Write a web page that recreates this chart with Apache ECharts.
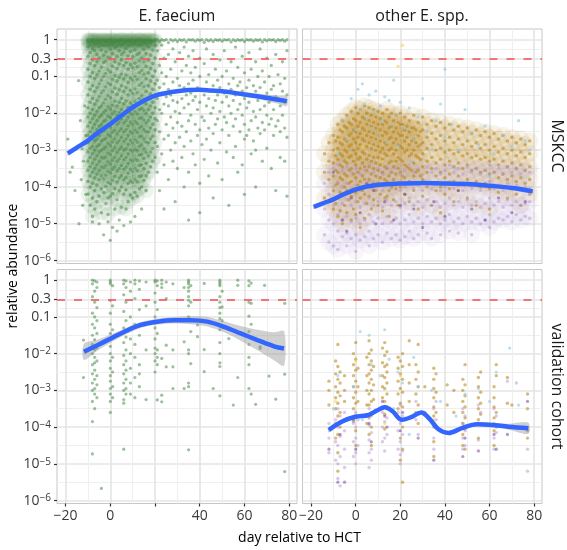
<!DOCTYPE html>
<html><head><meta charset="utf-8">
<script src="https://cdn.jsdelivr.net/npm/echarts@6/dist/echarts.min.js"></script>
<style>html,body{margin:0;padding:0;background:#fff}#c{width:567px;height:550px}</style>
</head><body><div id="c"></div>
<script>
// ---------------- DATA (day relative to HCT, log10 relative abundance) ----------------
const threshold = 0.3;
const yBreaks = [1, 0.3, 0.1, 1e-2, 1e-3, 1e-4, 1e-5, 1e-6];
const yBreakLabels = ['1', '0.3', '0.1', '10^-2', '10^-3', '10^-4', '10^-5', '10^-6'];
const xBreaks = [-20, 0, 20, 40, 60, 80];
const xMinorBreaks = [-10, 10, 30, 50, 70];
const xLabelsLeft = [-20, 0, 40, 60, 80];
const xLabelsRight = [-20, 0, 20, 40, 60, 80];

// MSKCC, E. faecium  [day, [log10 abundance ...]]  (dense early block)
const mskFaeciumDenseCols = [
[-10,[0,-0.03,-0.09,-0.2,-0.45,-0.8,-1.15,-1.5,-1.85,-2.1,-2.35,-2.6,-2.8,-3.05,-3.3,-3.55,-3.85,-4.2]],
[-9,[-0.01,-0.05,-0.14,-0.35,-0.65,-1.0,-1.35,-1.7,-2.0,-2.25,-2.5,-2.7,-2.95,-3.2,-3.45,-3.7,-4.0,-4.5]],
[-8,[0,-0.02,-0.07,-0.25,-0.55,-0.9,-1.25,-1.6,-1.9,-2.15,-2.4,-2.65,-2.9,-3.1,-3.35,-3.6,-3.9,-4.3,-4.8]],
[-7,[-0.01,-0.04,-0.12,-0.3,-0.7,-1.05,-1.4,-1.75,-2.05,-2.3,-2.55,-2.75,-3.0,-3.25,-3.5,-3.75,-4.1,-4.6]],
[-6,[0,-0.03,-0.1,-0.4,-0.6,-0.95,-1.3,-1.65,-1.95,-2.2,-2.45,-2.7,-2.9,-3.15,-3.4,-3.65,-3.95,-4.4]],
[-5,[-0.02,-0.06,-0.18,-0.5,-0.85,-1.2,-1.55,-1.85,-2.1,-2.35,-2.6,-2.85,-3.05,-3.3,-3.55,-3.8,-4.25]],
[-4,[0,-0.04,-0.11,-0.28,-0.75,-1.1,-1.45,-1.8,-2.05,-2.3,-2.5,-2.75,-3.0,-3.2,-3.45,-3.7,-4.05,-4.7]],
[-3,[-0.01,-0.03,-0.15,-0.42,-0.62,-1.0,-1.38,-1.72,-1.98,-2.22,-2.48,-2.72,-2.96,-3.22,-3.48,-3.78,-4.15]],
[-2,[0,-0.05,-0.08,-0.33,-0.58,-0.92,-1.28,-1.62,-1.92,-2.18,-2.42,-2.68,-2.92,-3.18,-3.42,-3.68,-3.98,-4.45]],
[-1,[-0.02,-0.04,-0.16,-0.48,-0.82,-1.18,-1.52,-1.82,-2.08,-2.32,-2.58,-2.82,-3.08,-3.32,-3.58,-3.88,-4.3,-4.75]],
[0,[0,-0.02,-0.1,-0.26,-0.52,-0.88,-1.22,-1.58,-1.88,-2.12,-2.38,-2.62,-2.88,-3.12,-3.38,-3.62,-3.92,-4.25]],
[1,[-0.01,-0.06,-0.13,-0.38,-0.72,-1.08,-1.42,-1.78,-2.02,-2.28,-2.52,-2.78,-3.02,-3.28,-3.52,-3.82,-4.18]],
[2,[0,-0.03,-0.09,-0.22,-0.6,-0.98,-1.32,-1.68,-1.96,-2.2,-2.46,-2.7,-2.94,-3.2,-3.46,-3.72,-4.05,-4.6]],
[3,[-0.02,-0.05,-0.17,-0.45,-0.78,-1.12,-1.48,-1.8,-2.06,-2.3,-2.56,-2.8,-3.06,-3.3,-3.56,-3.86,-4.35]],
[4,[0,-0.04,-0.11,-0.3,-0.66,-1.02,-1.36,-1.7,-1.98,-2.24,-2.48,-2.74,-2.98,-3.24,-3.5,-3.76,-4.1]],
[5,[-0.01,-0.02,-0.14,-0.4,-0.55,-0.94,-1.26,-1.6,-1.9,-2.16,-2.42,-2.66,-2.92,-3.16,-3.42,-3.7,-4.0,-4.55]],
[6,[0,-0.06,-0.12,-0.34,-0.7,-1.06,-1.4,-1.74,-2.0,-2.26,-2.5,-2.76,-3.0,-3.26,-3.52,-3.8,-4.2]],
[7,[-0.02,-0.03,-0.08,-0.24,-0.62,-0.96,-1.3,-1.66,-1.94,-2.2,-2.44,-2.7,-2.96,-3.2,-3.46,-3.74,-4.08,-4.6]],
[8,[0,-0.05,-0.16,-0.44,-0.8,-1.16,-1.5,-1.84,-2.1,-2.34,-2.6,-2.84,-3.1,-3.36,-3.62,-3.9,-4.4]],
[9,[-0.01,-0.04,-0.1,-0.32,-0.68,-1.04,-1.38,-1.72,-2.0,-2.24,-2.5,-2.74,-3.0,-3.26,-3.52,-3.84,-4.22]],
[10,[0,-0.03,-0.13,-0.46,-0.76,-1.1,-1.46,-1.78,-2.04,-2.3,-2.54,-2.8,-3.04,-3.3,-3.58,-3.88,-4.3]],
[11,[-0.02,-0.06,-0.09,-0.28,-0.64,-1.0,-1.34,-1.68,-1.96,-2.22,-2.46,-2.72,-2.98,-3.24,-3.5,-3.8,-4.15]],
[12,[0,-0.04,-0.15,-0.4,-0.74,-1.08,-1.44,-1.76,-2.02,-2.28,-2.52,-2.78,-3.02,-3.28,-3.56,-3.86,-4.25]],
[13,[-0.01,-0.02,-0.11,-0.36,-0.58,-0.9,-1.24,-1.6,-1.9,-2.14,-2.4,-2.64,-2.9,-3.14,-3.42,-3.72,-4.05]],
[14,[0,-0.05,-0.14,-0.5,-0.84,-1.18,-1.52,-1.86,-2.12,-2.36,-2.62,-2.86,-3.12,-3.4,-3.7,-4.0]],
[15,[-0.02,-0.03,-0.08,-0.26,-0.6,-0.94,-1.28,-1.62,-1.92,-2.18,-2.44,-2.7,-2.96,-3.22,-3.5,-3.82]],
[16,[0,-0.04,-0.12,-0.38,-0.72,-1.06,-1.4,-1.74,-2.0,-2.26,-2.5,-2.78,-3.06,-3.36,-3.7,-4.1]],
[17,[-0.01,-0.06,-0.2,-0.55,-0.9,-1.25,-1.6,-1.9,-2.2,-2.5,-2.8,-3.15,-3.6]],
[18,[0,-0.03,-0.1,-0.42,-0.78,-1.12,-1.48,-1.8,-2.1,-2.4,-2.7,-3.05,-3.45]],
[19,[-0.02,-0.05,-0.28,-0.65,-1.0,-1.35,-1.7,-2.0,-2.3,-2.62,-2.95,-3.3]],
[20,[0,-0.04,-0.15,-0.5,-0.85,-1.2,-1.55,-1.85,-2.15,-2.45,-2.8,-3.2]]
];
// MSKCC, E. faecium, later days (sparser)
const mskFaeciumSparseCols = [
[21,[0,-0.3,-1.1,-1.6,-2.2,-2.9,-3.6]],[22,[-0.05,-0.7,-1.3,-1.9,-2.5,-4.1]],
[23,[0,-0.15,-0.9,-1.45,-2.0,-3.1]],[24,[-0.02,-0.5,-1.2,-1.75,-2.7,-3.4,-4.6]],
[25,[0,-1.0,-1.55,-2.3]],[26,[-0.08,-0.4,-1.35,-1.8,-2.6,-3.8]],
[27,[0,-0.8,-1.5,-2.1,-3.0]],[28,[-0.03,-0.25,-1.15,-1.65,-2.4,-3.3]],
[29,[0,-0.6,-1.4,-1.95,-2.8,-4.4]],[30,[-0.05,-1.05,-1.7,-2.25,-3.5]],
[31,[0,-0.35,-1.25,-2.0,-2.65]],[32,[-0.02,-0.85,-1.6,-2.35,-3.2]],
[33,[0,-0.2,-1.3,-1.85,-2.9,-4.0]],[34,[-0.06,-0.7,-1.5,-2.5]],
[35,[0,-0.45,-1.2,-1.75,-2.2,-3.6,-4.9]],[36,[-0.01,-0.9,-1.45,-2.05,-2.75]],
[37,[0,-0.3,-1.1,-1.65,-3.1]],[38,[-0.04,-0.75,-1.55,-2.3,-3.4]],
[39,[0,-1.3,-1.9,-2.6]],[40,[-0.02,-0.5,-1.0,-1.7,-2.45,-3.9,-4.7]],
[41,[0,-1.35,-2.1,-2.85]],[42,[-0.07,-0.65,-1.5,-2.2,-3.25]],
[43,[0,-0.25,-1.15,-1.8,-2.7]],[44,[-0.03,-0.95,-1.6,-2.4,-3.7]],
[45,[0,-1.4,-2.0,-3.0]],[46,[-0.05,-0.4,-1.25,-1.85,-2.55,-4.3]],
[47,[0,-0.8,-1.65,-2.3]],[48,[-0.02,-1.1,-1.5,-2.15,-3.35]],
[49,[0,-0.55,-1.3,-1.95,-2.8]],[50,[-0.04,-1.0,-1.7,-2.45,-3.8]],
[51,[0,-0.3,-1.45,-2.1]],[52,[-0.01,-0.85,-1.55,-2.25,-3.05]],
[53,[0,-1.2,-1.8,-2.6,-4.5]],[54,[-0.06,-0.6,-1.35,-2.0]],
[55,[0,-1.05,-1.65,-2.35,-3.2]],[56,[-0.03,-0.2,-1.5,-2.15,-2.9]],
[57,[0,-0.75,-1.25,-1.9,-3.6]],[58,[-0.02,-1.15,-1.75,-2.5]],
[59,[0,-0.45,-1.4,-2.05,-3.4]],[60,[-0.05,-0.9,-1.6,-2.3,-2.7,-4.2]],
[61,[0,-1.3,-1.85,-2.6]],[62,[-0.01,-0.35,-1.1,-1.7,-2.45]],
[63,[0,-0.8,-1.5,-2.2,-3.1]],[64,[-0.04,-1.25,-1.95,-2.75]],
[65,[0,-0.6,-1.4,-2.1,-3.0,-4.0]],[66,[-0.02,-1.0,-1.65,-2.4]],
[67,[0,-0.25,-1.3,-1.9,-2.55]],[68,[-0.06,-0.85,-1.55,-2.25,-3.3]],
[69,[0,-1.15,-1.8,-2.45]],[70,[-0.03,-0.5,-1.45,-2.05,-2.95]],
[71,[0,-1.0,-1.7,-2.3]],[72,[-0.01,-0.7,-1.35,-2.15,-3.5]],
[73,[0,-1.25,-1.9,-2.6]],[74,[-0.05,-0.4,-1.55,-2.35,-4.1]],
[75,[0,-0.95,-1.6,-2.2]],[76,[-0.02,-1.2,-1.8,-2.5,-3.2]],
[77,[0,-0.6,-1.4,-2.05]],[78,[-0.04,-1.05,-1.7,-2.4,-3.3]],
[79,[0,-0.3,-1.5,-2.65,-4.25]]
];
const mskFaeciumOutliers = [[-19,-2.7],[-17,-3.46],[-15.8,-4.1],[-14.2,-1.11],[-13.4,-2.2],[-12.7,-2.96],[-12.4,-4.5],[-12,-3.3],[-11.5,-1.8],[-11,-4.2],[-11,-2.6],[-18,-3.6],[-14,-5.0],[-13,-3.8],
  [-5,-5.0],[-3,-5.3],[0,-5.45],[3,-5.2],[6,-5.05],[9,-4.95],[4,-4.9],[11,-4.8],[14,-4.6],[-8,-4.95],[1,-5.1],[-1,-4.95]];

// MSKCC, other Enterococcus spp. (colour groups)
const mskOtherGoldCols = [
[-14,[-3.1,-3.6,-4.3]],[-12,[-2.8,-3.3,-3.8,-4.4]],[-10,[-2.6,-3.0,-3.35,-3.7,-4.1,-4.6]],
[-9,[-2.75,-3.15,-3.55,-3.95,-4.45]],[-8,[-2.3,-2.65,-2.95,-3.25,-3.6,-3.9,-4.3,-4.8]],
[-7,[-2.45,-2.8,-3.1,-3.4,-3.75,-4.15,-4.65]],[-6,[-2.2,-2.5,-2.85,-3.15,-3.45,-3.8,-4.2,-5.0]],
[-5,[-2.35,-2.7,-3.0,-3.3,-3.65,-4.0,-4.5]],[-4,[-2.05,-2.4,-2.75,-3.05,-3.35,-3.7,-4.1,-4.7]],
[-3,[-2.25,-2.6,-2.9,-3.2,-3.55,-3.9,-4.35]],[-2,[-1.95,-2.3,-2.55,-2.85,-3.15,-3.5,-3.85,-4.25,-4.9]],
[-1,[-2.15,-2.45,-2.7,-3.0,-3.3,-3.65,-4.05,-4.6]],[0,[-1.85,-2.2,-2.5,-2.8,-3.1,-3.4,-3.75,-4.15,-4.75]],
[1,[-2.0,-2.35,-2.65,-2.95,-3.25,-3.6,-3.95,-4.4]],[2,[-1.9,-2.25,-2.55,-2.85,-3.2,-3.5,-3.85,-4.3,-5.1]],
[3,[-2.1,-2.4,-2.7,-3.05,-3.35,-3.7,-4.1]],[4,[-1.8,-2.15,-2.45,-2.75,-3.1,-3.45,-3.8,-4.2,-4.85]],
[5,[-2.0,-2.3,-2.6,-2.9,-3.25,-3.55,-3.95,-4.45]],[6,[-1.85,-2.2,-2.5,-2.8,-3.15,-3.45,-3.8,-4.25]],
[7,[-2.05,-2.35,-2.65,-2.95,-3.3,-3.65,-4.0,-4.6]],[8,[-1.9,-2.25,-2.55,-2.85,-3.2,-3.5,-3.9,-4.35]],
[9,[-2.1,-2.4,-2.7,-3.0,-3.35,-3.7,-4.1]],[10,[-1.95,-2.3,-2.6,-2.9,-3.2,-3.55,-3.9,-4.5]],
[11,[-2.15,-2.45,-2.75,-3.05,-3.4,-3.75,-4.2]],[12,[-2.0,-2.3,-2.6,-2.95,-3.25,-3.6,-3.95,-4.65]],
[13,[-2.2,-2.5,-2.8,-3.1,-3.45,-3.8,-4.3]],[14,[-1.9,-2.25,-2.55,-2.85,-3.15,-3.5,-3.85,-4.25]],
[15,[-2.1,-2.4,-2.7,-3.0,-3.35,-3.7,-4.1,-4.8]],[16,[-2.0,-2.35,-2.65,-2.95,-3.3,-3.6,-4.0]],
[17,[-2.2,-2.5,-2.8,-3.1,-3.45,-3.8,-4.35]],[18,[-2.05,-2.4,-2.7,-3.0,-3.3,-3.65,-4.05]],
[19,[-2.25,-2.55,-2.85,-3.2,-3.5,-3.9,-4.5]],[20,[-2.0,-2.3,-2.6,-2.9,-3.25,-3.6,-4.0]],
[21,[-2.3,-2.6,-2.95,-3.3,-3.7]],[22,[-2.1,-2.45,-2.75,-3.05,-3.4,-3.75,-4.2]],
[23,[-2.35,-2.65,-3.0,-3.45,-3.9]],[24,[-2.2,-2.5,-2.85,-3.15,-3.5,-3.85,-4.4]],
[25,[-2.4,-2.75,-3.1,-3.55]],[26,[-2.05,-2.4,-2.7,-3.0,-3.35,-3.7,-4.1]],
[27,[-2.45,-2.8,-3.15,-3.6]],[28,[-2.25,-2.6,-2.9,-3.2,-3.55,-3.9,-4.6]],
[29,[-2.5,-2.85,-3.25,-3.7]],
[30,[-2.1,-2.45,-2.8,-3.1,-3.45,-3.8,-4.25]],[32,[-2.3,-2.65,-2.95,-3.3,-3.6,-4.0]],
[34,[-2.2,-2.55,-2.85,-3.2,-3.5,-3.9,-4.5]],[36,[-2.35,-2.7,-3.0,-3.35,-3.7,-4.1]],
[38,[-2.25,-2.6,-2.95,-3.25,-3.6,-4.0,-4.7]],[40,[-2.4,-2.75,-3.05,-3.4,-3.75,-4.2]],
[42,[-2.3,-2.65,-3.0,-3.3,-3.65,-4.05]],[44,[-2.45,-2.8,-3.1,-3.45,-3.85,-4.4]],
[46,[-2.35,-2.7,-3.05,-3.35,-3.7,-4.1]],[48,[-2.5,-2.85,-3.15,-3.5,-3.9]],
[50,[-2.4,-2.75,-3.1,-3.4,-3.8,-4.3]],[52,[-2.55,-2.9,-3.2,-3.55,-3.95]],
[54,[-2.45,-2.8,-3.15,-3.5,-3.85,-4.5]],[56,[-2.6,-2.95,-3.25,-3.6,-4.0]],
[58,[-2.5,-2.85,-3.2,-3.55,-3.9]],[60,[-2.65,-3.0,-3.3,-3.65,-4.05,-4.6]],
[62,[-2.55,-2.9,-3.25,-3.6,-3.95]],[64,[-2.7,-3.05,-3.4,-3.75,-4.15]],
[66,[-2.6,-2.95,-3.3,-3.65,-4.0]],[68,[-2.75,-3.1,-3.45,-3.8,-4.3]],
[70,[-2.65,-3.0,-3.35,-3.7,-4.05]],[72,[-2.8,-3.15,-3.5,-3.85,-4.2]],
[74,[-2.7,-3.05,-3.4,-3.75,-4.5]],[76,[-2.85,-3.2,-3.55,-3.9]],[78,[-2.75,-3.1,-3.45,-3.8,-4.2]]
];
const mskOtherLavenderCols = [
[-14,[-3.9,-4.6,-5.3]],[-12,[-3.6,-4.2,-4.9,-5.5]],[-10,[-3.5,-4.0,-4.5,-5.0,-5.6]],
[-8,[-3.4,-3.85,-4.3,-4.75,-5.2,-5.7]],[-6,[-3.55,-4.0,-4.45,-4.9,-5.35]],[-4,[-3.45,-3.9,-4.35,-4.8,-5.25,-5.6]],
[-2,[-3.6,-4.05,-4.5,-4.95,-5.4]],[0,[-3.5,-3.95,-4.4,-4.85,-5.3,-5.75]],[2,[-3.65,-4.1,-4.55,-5.0,-5.45]],
[4,[-3.55,-4.0,-4.45,-4.9,-5.35]],[6,[-3.4,-3.85,-4.3,-4.75,-5.2,-5.6]],[8,[-3.6,-4.05,-4.5,-4.95,-5.4]],
[10,[-3.5,-3.95,-4.4,-4.85,-5.3]],[12,[-3.65,-4.1,-4.55,-5.0,-5.5]],[14,[-3.45,-3.9,-4.35,-4.8,-5.25]],
[16,[-3.6,-4.05,-4.5,-4.95,-5.4]],[18,[-3.5,-3.95,-4.4,-4.85,-5.3]],[20,[-3.65,-4.1,-4.55,-5.0,-5.45]],
[22,[-3.55,-4.0,-4.45,-4.9,-5.35]],[24,[-3.4,-3.85,-4.3,-4.75,-5.2]],[26,[-3.6,-4.05,-4.5,-4.95,-5.4]],
[28,[-3.5,-3.95,-4.4,-4.85,-5.3]],[30,[-3.65,-4.1,-4.55,-5.0]],[32,[-3.45,-3.9,-4.35,-4.8,-5.25]],
[34,[-3.6,-4.05,-4.5,-4.95,-5.4]],[36,[-3.5,-3.95,-4.4,-4.85]],[38,[-3.65,-4.1,-4.55,-5.0,-5.3]],
[40,[-3.55,-4.0,-4.45,-4.9]],[42,[-3.4,-3.85,-4.3,-4.75,-5.2]],[44,[-3.6,-4.05,-4.5,-4.95]],
[46,[-3.5,-3.95,-4.4,-4.85,-5.25]],[48,[-3.65,-4.1,-4.55,-5.0]],[50,[-3.45,-3.9,-4.35,-4.8]],
[52,[-3.6,-4.05,-4.5,-4.95,-5.3]],[54,[-3.5,-3.95,-4.4,-4.85]],[56,[-3.65,-4.1,-4.55,-5.0]],
[58,[-3.55,-4.0,-4.45,-4.9]],[60,[-3.4,-3.85,-4.3,-4.75,-5.1]],[62,[-3.6,-4.05,-4.5,-4.95]],
[64,[-3.5,-3.95,-4.4,-4.85]],[66,[-3.65,-4.1,-4.55,-4.9]],[68,[-3.45,-3.9,-4.35,-4.8]],
[70,[-3.6,-4.05,-4.5,-4.95]],[72,[-3.5,-3.95,-4.4,-4.75]],[74,[-3.65,-4.1,-4.5,-4.9]],
[76,[-3.55,-4.0,-4.45,-4.8]],[78,[-3.6,-4.05,-4.4,-4.85]]
];
const mskOtherBlue = [[-2,-1.6],[1,-1.35],[2,-1.9],[3,-1.2],[4,-1.75],[5,-2.1],[6,-1.5],[7,-2.4],[8,-1.95],[9,-1.4],[10,-2.6],[11,-1.8],[12,-2.2],[13,-1.55],[14,-2.8],[15,-1.65],[16,-2.3],[17,-1.1],[18,-2.05],[19,-2.9],[20,-1.7],[22,-2.4],[24,-1.85],[26,-2.7],[28,-2.1],[30,-1.6],[32,-2.5],[34,-2.95],[36,-2.2],[38,-1.75],[40,-2.65],[40,-0.8],[43,-2.3],[46,-3.0],[49,-1.9],[52,-2.55],[55,-2.85],[58,-2.35],[62,-3.1],[66,-2.6],[70,-2.9],[73,-2.2],[76,-2.75],[78,-3.0],[-8,-3.1],[-4,-2.7],[0,-2.45],[-6,-2.2],[25,-3.3],[45,-3.5],[60,-3.7]];
const mskOtherPurple = [[-10,-3.6],[-6,-4.9],[-2,-4.3],[2,-4.7],[5,-3.9],[9,-5.0],[13,-4.4],[17,-4.9],[22,-4.2],[26,-4.6],[30,-5.1],[35,-4.4],[40,-4.8],[46,-4.1],[52,-4.6],[58,-4.9],[64,-4.3],[70,-4.7],[76,-4.4],[-4,-5.2],[8,-4.1],[20,-4.5]];
const mskOtherYellow = [[3,-2.9],[12,-3.3],[19,-0.72],[21,-0.15],[30,-3.6],[44,-2.9],[60,-3.2],[-3,-3.8]];

// validation cohort, E. faecium
const valFaeciumCols = [
[-12,[-1.63,-2.65]],[-8,[0,-0.1,-0.45,-0.9,-1.2,-1.5,-1.75,-2.0,-2.3,-2.55,-2.8,-3.0,-3.3,-3.85,-4.73]],
[-7,[-0.02,-0.3,-0.6,-1.0,-1.3,-1.62,-1.9,-2.1,-2.25,-2.45,-2.7,-2.95,-3.1,-3.5]],
[-6,[-0.05,-0.2,-0.75,-1.1,-1.45,-1.85,-2.2,-2.6,-2.85,-3.2]],[-4,[-5.67]],
[0,[0,-0.05,-0.1,-0.55,-0.9,-1.2,-1.45,-1.8,-2.0,-2.2,-2.4,-2.6,-2.75,-2.95,-3.1,-3.3,-3.6]],
[1,[-0.15,-0.7,-1.35,-2.1,-2.5,-2.9,-3.2]],
[6,[0,-0.1,-0.4,-0.85,-1.3,-1.7,-2.05,-2.3,-2.55,-2.8,-3.0,-3.25,-3.35,-4.6]],
[7,[-0.02,-0.2,-0.6,-1.1,-1.55,-1.9,-2.2,-2.45,-2.7,-2.95,-3.1]],
[9,[-0.05,-0.3,-1.0,-1.6,-2.0,-2.4,-2.8,-3.1]],[11,[0,-0.1,-0.5,-1.2,-1.75,-2.1,-2.65,-3.2]],
[13,[-0.02,-0.25,-0.8,-1.5,-2.3,-2.55,-2.9]],[16,[-0.05,-0.7,-1.9,-3.25]],
[20,[0,-0.05,-0.35,-0.6,-1.0,-1.3,-1.6,-1.85,-2.0,-2.2,-2.5]],
[21,[-0.02,-0.15,-0.8,-1.45,-1.9,-2.1,-2.3,-3.26]],[23,[0,-0.1,-0.2,-2.13,-3.31,-3.13]],
[25,[-0.05,-0.5,-1.77,-2.36]],[28,[-0.1,-1.9,-2.36,-2.95]],[33,[-0.2,-1.68,-2.95]],
[35,[0,-0.05,-0.1,-0.2,-0.3,-0.45,-0.55,-0.7,-1.0,-1.9,-2.0,-2.8,-2.9,-4.62]],
[36,[-0.15,-0.6,-1.4,-2.27]],[39,[-1.22,-1.54]],[42,[-1.89,-2.49,-0.09]],[46,[-2.95]],
[49,[0,-0.05,-0.1,-0.15,-0.45,-0.6,-0.75,-0.9,-1.05,-1.35,-1.7,-2.0,-2.25,-2.35,-3.15]],
[50,[-0.3,-0.73,-1.1]],[53,[-1.59]],[55,[-3.4]],[57,[0,-2.65,-0.14]],
[62,[-0.02,-0.15,-0.6,-0.98,-1.4,-1.75,-2.1,-2.3,-2.95]],[63,[-0.08,-0.63,-1.2,-3.1]],
[65,[-3.38]],[67,[-1.86,-1.81]],[69,[-0.14]],[71,[-2.61]],[74,[-3.24]],[78,[-0.63,-2.56,-5.21]]
];

// validation cohort, other Enterococcus spp.
const valOtherGoldCols = [
[-12,[-2.75,-3.0,-3.4]],[-9,[-2.2,-2.55,-2.9,-3.2,-3.5,-3.9,-4.3]],
[-8,[-1.75,-2.35,-2.7,-3.05,-3.35,-3.7,-4.2,-4.7,-5.2]],[-7,[-2.5,-2.8,-3.15,-3.6,-4.0]],
[-5,[-2.6,-3.0,-3.3,-3.8]],[-1,[-2.0,-2.3,-2.6,-2.9,-3.2,-3.5,-3.85]],
[0,[-1.7,-2.15,-2.45,-2.75,-3.05,-3.35,-3.7,-4.1,-4.5]],[1,[-2.4,-2.9,-3.3]],
[5,[-2.1,-2.6,-3.0,-3.4,-3.9]],[6,[-1.65,-2.0,-2.3,-2.55,-2.8,-3.1,-3.4,-3.75,-4.2]],
[7,[-1.9,-2.2,-2.45,-2.7,-3.0,-3.3,-3.6,-4.0,-4.5]],[8,[-2.35,-2.85,-3.25]],
[12,[-1.85,-2.25,-2.6,-2.9,-3.2,-3.5]],[13,[-1.7,-2.05,-2.35,-2.65,-2.95,-3.3,-3.65,-4.05]],
[14,[-1.95,-2.3,-2.5,-2.8,-3.1,-3.45]],[19,[-2.1,-2.4,-2.75,-3.1,-3.5]],
[20,[-2.2,-2.55,-2.95,-3.35,-3.8,-4.3,-4.9]],[21,[-2.0,-2.35,-2.7,-3.05,-3.45,-4.0,-4.6,-5.5]],
[24,[-1.65,-2.3,-2.8,-3.3]],[27,[-2.3,-2.7,-3.1,-3.6]],[28,[-1.75,-2.5,-2.9,-3.4,-3.9]],
[31,[-2.9,-3.6]],[35,[-2.4,-2.7,-2.95,-3.2,-3.45,-3.7,-4.0,-4.4,-4.8]],[36,[-2.55,-3.05,-3.6]],
[41,[-2.85,-3.4]],[44,[-3.0,-3.6]],[48,[-2.7,-3.0,-3.3,-3.6,-3.9,-4.2,-4.5]],
[49,[-2.3,-2.85,-3.15,-3.45,-3.75,-4.05,-4.6]],[55,[-2.65,-2.9,-3.2,-3.5,-3.8,-4.3]],
[56,[-2.5,-3.05,-3.35,-3.65]],[62,[-2.9,-3.2,-3.45,-3.75,-4.1,-4.5]],[63,[-2.3,-2.6,-3.6,-4.0]],
[68,[-2.65,-3.35]],[70,[-3.4]],[77,[-3.1,-3.5,-4.3,-4.1]]
];
const valOtherLavenderCols = [
[-12,[-3.9,-4.3,-4.7]],[-9,[-3.8,-4.4,-4.9]],[-8,[-3.5,-4.0,-4.5,-5.0,-5.4]],[-7,[-3.7,-4.25,-4.8,-5.6]],
[-5,[-3.6,-4.1,-4.6,-5.1]],[-1,[-3.9,-4.4,-4.8]],[0,[-3.6,-4.0,-4.3,-4.7,-5.0]],[1,[-3.8,-4.5]],
[6,[-3.5,-3.95,-4.35,-4.7,-5.1]],[7,[-3.7,-4.15,-4.6,-4.9]],[12,[-3.6,-4.0,-4.4]],
[13,[-3.45,-3.85,-4.3,-4.65]],[14,[-3.75,-4.2]],[19,[-3.6,-4.1,-4.6]],[20,[-3.4,-3.9,-4.4,-4.75,-5.0]],
[21,[-3.7,-4.2,-4.65]],[27,[-3.3,-3.8]],[28,[-4.2]],[35,[-3.5,-3.9,-4.3,-4.6]],[36,[-3.3,-3.8]],
[48,[-3.5,-3.9,-4.3,-4.6]],[49,[-3.7,-4.1,-4.5]],[55,[-3.4,-3.9,-4.35]],[56,[-3.6]],
[62,[-3.5,-3.9,-4.3,-4.6]],[63,[-3.7,-4.15]],[68,[-2.75,-4.0]],[72,[-2.8]],[77,[-4.6,-5.2]]
];
const valOtherBlue = [[-8,-2.6],[-1,-2.9],[2,-1.4],[6,-1.5],[7,-2.3],[11,-2.6],[13,-1.35],[15,-2.15],[19,-2.5],[21,-2.8],[26,-2.1],[28,-2.9],[34,-3.0],[38,-3.3],[49,-3.1],[55,-2.95],[60,-3.3],[63,-2.5],[69,-1.85],[73,-3.4],[-10,-3.5],[3,-3.8],[17,-3.5],[24,-4.2],[45,-3.7]];
const valOtherPurple = [[-12,-4.6],[-8,-5.5],[-7,-4.2],[-5,-5.5],[-1,-3.8],[0,-4.6],[6,-3.9],[7,-4.4],[12,-3.3],[13,-3.7],[14,-4.0],[20,-4.1],[21,-3.6],[28,-4.3],[35,-4.9],[48,-4.8],[49,-4.3],[55,-4.65],[62,-4.2],[63,-4.6],[68,-4.2],[77,-3.3]];
const valOtherYellow = [[-9,-3.3],[0,-2.2],[7,-3.6],[13,-3.9],[20,-2.6],[35,-3.8]];

// loess smooth fits: [day, fitted log10, half-width of 95% CI]
const mskFaeciumSmooth = [[-19,-3.09,0.06],[-15,-2.93,0.05],[-10,-2.74,0.04],[-5,-2.5,0.03],[0,-2.29,0.03],[5,-2.06,0.02],[10,-1.84,0.02],[15,-1.66,0.02],[20,-1.52,0.02],[25,-1.45,0.02],[30,-1.4,0.03],[35,-1.37,0.03],[40,-1.36,0.03],[45,-1.38,0.03],[50,-1.4,0.04],[55,-1.44,0.05],[60,-1.49,0.06],[65,-1.53,0.07],[70,-1.58,0.09],[75,-1.63,0.11],[79,-1.67,0.13]];
const mskOtherSmooth = [[-18.8,-4.54,0.05],[-14,-4.43,0.04],[-9.8,-4.33,0.03],[-5,-4.19,0.03],[0.6,-4.06,0.02],[5,-3.99,0.02],[10.4,-3.94,0.02],[20,-3.91,0.02],[30.6,-3.89,0.02],[40.3,-3.91,0.02],[50,-3.92,0.02],[60.5,-3.97,0.03],[70.3,-4.03,0.04],[79.3,-4.12,0.06]];
const valFaeciumSmooth = [[-11.8,-1.95,0.22],[-5.8,-1.77,0.15],[0.2,-1.59,0.11],[6.1,-1.41,0.09],[13.6,-1.22,0.08],[21,-1.13,0.08],[28.5,-1.09,0.09],[35.9,-1.09,0.11],[43.4,-1.13,0.13],[50.9,-1.27,0.15],[58.3,-1.45,0.2],[65.8,-1.63,0.28],[73.2,-1.8,0.38],[77.7,-1.86,0.47]];
const valOtherSmooth = [[-12.1,-4.08,0.07],[-6.1,-3.85,0.05],[-0.2,-3.72,0.05],[5.8,-3.67,0.05],[9.5,-3.55,0.05],[13,-3.46,0.05],[16.5,-3.57,0.05],[20.7,-3.8,0.05],[25.2,-3.72,0.05],[29.4,-3.6,0.05],[33,-3.77,0.05],[37.1,-4.06,0.05],[41.6,-4.16,0.05],[47.6,-4.03,0.05],[54.3,-3.92,0.05],[61,-3.94,0.06],[68.5,-3.99,0.08],[77.4,-4.03,0.15]];

// ---------------- CHART ----------------
const FONT = "'Open Sans', 'Liberation Sans', sans-serif";
const X_MIN = -23.85, X_MAX = 83.5, Y_MIN = -6.08, Y_MAX = 0.29;
const yMajor = yBreaks.map(v => Math.log10(v));
const yMinor = [];
for (let i = 0; i < yMajor.length - 1; i++) yMinor.push((yMajor[i] + yMajor[i + 1]) / 2);

function fromCols(cols) { const out = []; cols.forEach(([d, vs]) => vs.forEach(v => out.push([d, v]))); return out; }

const grids = [
  { left: 57, top: 29, width: 240, height: 234.5 },
  { left: 302.5, top: 29, width: 239.5, height: 234.5 },
  { left: 57, top: 269.5, width: 240, height: 234 },
  { left: 302.5, top: 269.5, width: 239.5, height: 234 }
];
const majorLine = { show: true, lineStyle: { color: '#e4e4e4', width: 1.6 } };
const minorLine = { show: true, lineStyle: { color: '#efefef', width: 1 } };
const tickLabelStyle = { color: '#3a3a3a', fontFamily: FONT, fontSize: 14 };

const xAxes = [], yAxes = [];
grids.forEach((g, i) => {
  const bottom = i >= 2, left = i % 2 === 0;
  const labs = i === 2 ? xLabelsLeft : xLabelsRight;
  xAxes.push({
    type: 'value', gridIndex: i, position: 'bottom', min: X_MIN, max: X_MAX, axisLine: { show: false, onZero: false },
    axisTick: { show: bottom, customValues: xBreaks, length: 3, lineStyle: { color: '#333', width: 1.2 } },
    axisLabel: Object.assign({ show: bottom, customValues: labs, margin: 6,
      formatter: v => (v < 0 ? '\u2212' + (-v) : '' + v) }, tickLabelStyle),
    splitLine: majorLine
  });
  xAxes.push({
    type: 'value', gridIndex: i, position: 'bottom', min: X_MIN, max: X_MAX, axisLine: { show: false, onZero: false },
    axisTick: { show: false, customValues: xMinorBreaks }, axisLabel: { show: false }, splitLine: minorLine
  });
  yAxes.push({
    type: 'value', gridIndex: i, position: 'left', min: Y_MIN, max: Y_MAX, axisLine: { show: false, onZero: false },
    axisTick: { show: left, customValues: yMajor, length: 3, lineStyle: { color: '#333', width: 1.2 } },
    axisLabel: Object.assign({ show: left, customValues: yMajor, margin: 6,
      formatter: v => {
        const k = yMajor.findIndex(m => Math.abs(m - v) < 1e-6);
        const s = yBreakLabels[k];
        if (s.indexOf('^') < 0) return s;
        const p = s.split('^');
        return p[0] + '{s|' + p[1].replace('-', '\u2212') + '}';
      },
      rich: { s: { fontSize: 10, fontFamily: FONT, color: '#3a3a3a', verticalAlign: 'top', lineHeight: 10 } }
    }, tickLabelStyle),
    splitLine: majorLine
  });
  yAxes.push({
    type: 'value', gridIndex: i, position: 'left', min: Y_MIN, max: Y_MAX, axisLine: { show: false, onZero: false },
    axisTick: { show: false, customValues: yMinor }, axisLabel: { show: false }, splitLine: minorLine
  });
});

function scatter(gi, data, color, size, z) {
  return { type: 'scatter', xAxisIndex: gi * 2, yAxisIndex: gi * 2, data: data, symbolSize: size,
    itemStyle: { color: color }, silent: true, z: z || 2, animation: false };
}
function band(gi, arr) {
  return { type: 'custom', xAxisIndex: gi * 2, yAxisIndex: gi * 2, data: arr.map(p => [p[0], p[1]]),
    silent: true, z: 3, clip: true, animation: false,
    renderItem: (params, api) => {
      if (params.dataIndex !== 0) return null;
      const up = arr.map(p => api.coord([p[0], p[1] + p[2]]));
      const lo = arr.map(p => api.coord([p[0], p[1] - p[2]])).reverse();
      return { type: 'polygon', shape: { points: up.concat(lo), smooth: 0.3 }, style: { fill: 'rgba(150,150,150,0.45)' } };
    } };
}
function smoothLine(gi, arr) {
  return { type: 'line', xAxisIndex: gi * 2, yAxisIndex: gi * 2, data: arr.map(p => [p[0], p[1]]),
    smooth: 0.35, showSymbol: false, silent: true, z: 4, animation: false,
    lineStyle: { color: '#3366FF', width: 4.5 },
    markLine: { silent: true, symbol: 'none', animation: false, label: { show: false },
      lineStyle: { color: 'rgba(245,95,95,0.85)', type: [8, 9], width: 2 },
      data: [{ yAxis: Math.log10(threshold) }] } };
}

const GREEN = 'rgba(65,135,65,0.65)', GREEN_HAZE = 'rgba(80,140,80,0.13)';
const GOLD = 'rgba(180,130,15,0.68)', GOLD_HAZE = 'rgba(185,140,40,0.13)';
const LAV = 'rgba(175,145,210,0.6)', LAV_HAZE = 'rgba(195,175,222,0.15)';
const BLUE = 'rgba(140,200,230,0.75)', PURP = 'rgba(110,60,150,0.65)', YEL = 'rgba(240,210,60,0.7)';

const tlDense = fromCols(mskFaeciumDenseCols), trGold = fromCols(mskOtherGoldCols), trLav = fromCols(mskOtherLavenderCols);
const series = [
  scatter(0, tlDense, GREEN_HAZE, 15),
  scatter(0, tlDense, GREEN, 3.6),
  scatter(0, fromCols(mskFaeciumSparseCols), GREEN, 3.3),
  scatter(0, mskFaeciumOutliers, GREEN, 3.3),
  band(0, mskFaeciumSmooth), smoothLine(0, mskFaeciumSmooth),
  scatter(1, trGold, GOLD_HAZE, 17),
  scatter(1, trLav, LAV_HAZE, 17),
  scatter(1, trGold, GOLD, 3.4),
  scatter(1, trLav, LAV, 3.4),
  scatter(1, mskOtherBlue, BLUE, 3.2), scatter(1, mskOtherPurple, PURP, 3.2), scatter(1, mskOtherYellow, YEL, 3.2),
  band(1, mskOtherSmooth), smoothLine(1, mskOtherSmooth),
  scatter(2, fromCols(valFaeciumCols), GREEN, 3.2),
  band(2, valFaeciumSmooth), smoothLine(2, valFaeciumSmooth),
  scatter(3, fromCols(valOtherGoldCols), GOLD, 3.4),
  scatter(3, fromCols(valOtherLavenderCols), LAV, 3.4),
  scatter(3, valOtherBlue, BLUE, 3.2), scatter(3, valOtherPurple, PURP, 3.2), scatter(3, valOtherYellow, YEL, 3.2),
  band(3, valOtherSmooth), smoothLine(3, valOtherSmooth)
];

function txt(text, x, y, rot, size, color) {
  return { type: 'text', x: x, y: y, rotation: rot || 0, silent: true,
    style: { text: text, fontFamily: FONT, fontSize: size, fill: color, align: 'center', verticalAlign: 'middle' } };
}

const chart = echarts.init(document.getElementById('c'), null, { renderer: 'canvas' });
chart.setOption({
  animation: false,
  backgroundColor: '#ffffff',
  grid: grids.map(g => Object.assign({ show: true, borderColor: '#c6c6c6', borderWidth: 1, backgroundColor: 'transparent' }, g)),
  xAxis: xAxes, yAxis: yAxes, series: series,
  graphic: [
    txt('E. faecium', 177, 16, 0, 16, '#1a1a1a'),
    txt('other E. spp.', 422, 16, 0, 16, '#1a1a1a'),
    txt('MSKCC', 557, 146, -Math.PI / 2, 16, '#1a1a1a'),
    txt('validation cohort', 557, 386.5, -Math.PI / 2, 16, '#1a1a1a'),
    txt('relative abundance', 13, 266, Math.PI / 2, 14, '#000'),
    txt('day relative to HCT', 299.5, 538, 0, 14, '#000')
  ]
});
</script></body></html>
